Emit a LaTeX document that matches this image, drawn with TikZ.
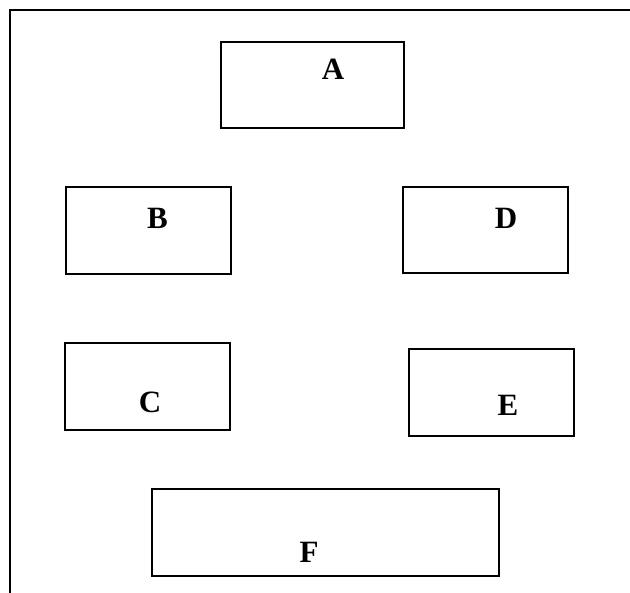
\documentclass[tikz,border=0pt]{standalone}
\usepackage{fontspec}
\setmainfont{Liberation Serif}
\begin{document}
\begin{tikzpicture}[x=1pt,y=-1pt]
      \useasboundingbox(0,0) rectangle (630,593);
      \tikzset{B/.style = {shape=rectangle, draw, line width=2.4pt, inner sep=0pt}}
      \tikzset{L/.style = {inner sep=0pt, text=black, font=\fontsize{31}{31}\selectfont\bfseries}}
      \coordinate (fb) at (10,593);
      \coordinate (ft) at (10,10);
      \coordinate (fr) at (630,10);
      \draw[line width=2.2pt] (fb) -- (ft) -- (fr);
      \node[B,minimum width=183pt,minimum height=86pt](bA) at (312.5,85) {};
      \node[B,minimum width=165pt,minimum height=87pt](bB) at (148.5,230.5) {};
      \node[B,minimum width=165pt,minimum height=86pt](bD) at (485.5,230) {};
      \node[B,minimum width=165pt,minimum height=87pt](bC) at (147.5,386.5) {};
      \node[B,minimum width=165pt,minimum height=87pt](bE) at (491.5,392.5) {};
      \node[B,minimum width=347pt,minimum height=87pt](bF) at (325.5,532.5) {};
      \node[L](tA) at (333,69) {A};
      \node[L](tB) at (157.5,218) {B};
      \node[L](tD) at (506,218) {D};
      \node[L](tC) at (150,402) {C};
      \node[L](tE) at (508,405) {E};
      \node[L](tF) at (309,552) {F};
    \end{tikzpicture}
\end{document}
